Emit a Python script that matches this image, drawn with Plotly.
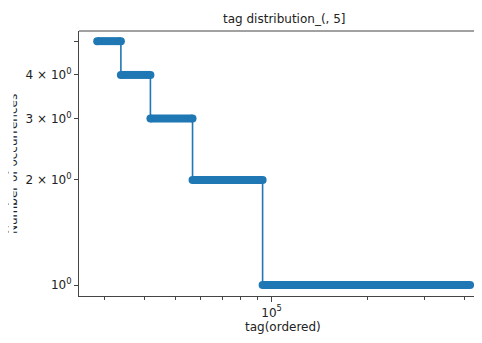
import plotly.graph_objects as go

# Data
levels = [5, 4, 3, 2, 1]                      # number of occurrences
first_rank = [28500, 33800, 41800, 56600, 93700]   # first tag rank at each level
last_rank = [33799, 41799, 56599, 93699, 417000]   # last tag rank at each level

y_tickvals = [1, 2, 3, 4, 5]
y_ticktext = ["10<sup>0</sup>", "2 × 10<sup>0</sup>", "3 × 10<sup>0</sup>", "4 × 10<sup>0</sup>", ""]
x_major_vals = [100000]
x_major_text = ["10<sup>5</sup>"]
x_minor_vals = [30000, 40000, 50000, 60000, 70000, 80000, 90000, 200000, 300000, 400000]

BLUE = "#1f77b4"
FONT = "DejaVu Sans"

# The page body has an 8px default margin on every side; size the figure so the
# page never overflows (no scrollbars) and lay it out relative to that offset.
OFF = 8
W, H = 482 - 2 * OFF, 343 - 2 * OFF

# thin step line through all level endpoints
sx, sy = [], []
for lv, a, b in zip(levels, first_rank, last_rank):
    sx += [a, b]
    sy += [lv, lv]

# thick bands (dense markers in the original)
bx, by = [], []
for lv, a, b in zip(levels, first_rank, last_rank):
    bx += [a, b, None]
    by += [lv, lv, None]

fig = go.Figure()
fig.add_trace(go.Scatter(x=sx, y=sy, mode="lines",
                         line=dict(color=BLUE, width=1.6), hoverinfo="skip"))
fig.add_trace(go.Scatter(x=bx, y=by, mode="lines+markers",
                         line=dict(color=BLUE, width=8), cliponaxis=False,
                         marker=dict(color=BLUE, size=8), hoverinfo="skip"))

axis_common = dict(showgrid=False, zeroline=False, showline=True,
                   linecolor="#444", linewidth=1.2, ticks="outside",
                   tickcolor="#444", tickwidth=1, automargin=False,
                   tickfont=dict(family=FONT, size=12, color="#222"))

# plot area spans window x 79..474 at 320 px per decade
x_lo = 4.398
x_hi = x_lo + (474 - 79) / 320.0
fig.update_xaxes(type="log", range=[x_lo, x_hi], mirror=False,
                 tickmode="array", tickvals=x_major_vals, ticktext=x_major_text,
                 ticklen=5,
                 minor=dict(tickmode="array", tickvals=x_minor_vals, ticks="outside",
                            ticklen=3, tickcolor="#444", tickwidth=1, showgrid=False),
                 **axis_common)
fig.update_yaxes(type="log", range=[-0.0315, 0.728], mirror=False,
                 tickmode="array", tickvals=y_tickvals, ticktext=y_ticktext,
                 ticklen=4, **axis_common)

L, T, B = 79 - OFF, 31 - OFF, H - (296 - OFF)
PW, PH = W - L, H - T - B

fig.update_layout(
    width=W, height=H,
    margin=dict(l=L, r=0, t=T, b=B, autoexpand=False),
    paper_bgcolor="white", plot_bgcolor="white",
    showlegend=False,
    font=dict(family=FONT, size=12, color="#222"),
    shapes=[dict(type="line", xref="paper", yref="paper", x0=0, x1=1, y0=1, y1=1,
                 line=dict(color="#444", width=1.2), layer="above")],
    annotations=[
        dict(text="tag distribution_(, 5]", xref="paper", yref="paper",
             x=(284 - 79) / PW, y=1, yshift=12, xanchor="center", yanchor="middle",
             showarrow=False, font=dict(family=FONT, size=12, color="#222")),
        dict(text="tag(ordered)", xref="paper", yref="paper",
             x=(283 - 79) / PW, y=0, yshift=-B, xanchor="center", yanchor="bottom",
             borderpad=0, showarrow=False, font=dict(family=FONT, size=12, color="#222")),
        dict(text="Number of occurrences", xref="paper", yref="paper",
             x=0, xshift=-66, y=(296 - 164) / PH, xanchor="center", yanchor="middle",
             textangle=-90, showarrow=False,
             font=dict(family=FONT, size=12, color="#222")),
        dict(text=" ", xref="paper", yref="paper", x=0, xshift=-L,
             y=0.5, xanchor="left", yanchor="middle", width=4, height=220,
             borderpad=0, bgcolor="white", showarrow=False),
    ],
)

fig.write_html("out.html")
